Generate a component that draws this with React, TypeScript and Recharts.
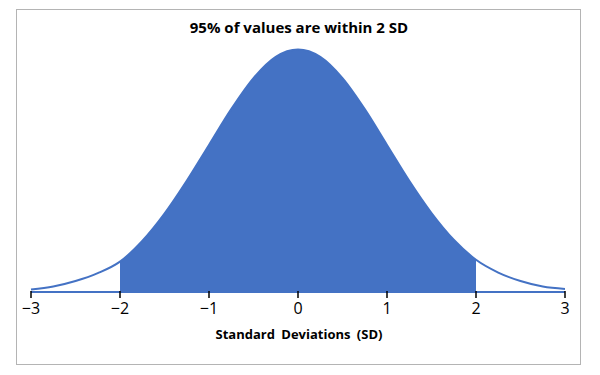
import { ComposedChart, Area, XAxis, YAxis } from "recharts";

// standard deviations along the x axis
const sdPoints = [-3, -2.75, -2.5, -2.25, -2, -1.75, -1.5, -1.25, -1, -0.75, -0.5, -0.25, 0, 0.25, 0.5, 0.75, 1, 1.25, 1.5, 1.75, 2, 2.25, 2.5, 2.75, 3];
// curve height
const density = [0.004, 0.009, 0.018, 0.031, 0.05, 0.084, 0.129, 0.183, 0.242, 0.301, 0.352, 0.387, 0.399, 0.387, 0.352, 0.301, 0.242, 0.183, 0.13, 0.086, 0.053, 0.032, 0.018, 0.009, 0.005];
const xTicks = [-3, -2, -1, 0, 1, 2, 3];
const shadeFrom = -2;
const shadeTo = 2;

const data = sdPoints.map((x, i) => ({
  x,
  curve: density[i],
  shaded: x >= shadeFrom && x <= shadeTo ? density[i] : null,
}));

const BLUE = "#4472C4";
const FONT = "'Open Sans', sans-serif";

function Tick(props: any) {
  const { x, y, payload } = props;
  const v = payload.value;
  const label = v < 0 ? `\u2212${Math.abs(v)}` : `${v}`;
  return (
    <g>
      <line x1={x} x2={x} y1={y - 1} y2={y + 6} stroke="#000" strokeWidth={1.5} />
      <text x={x} y={y + 22} textAnchor="middle" fontSize={16} fontFamily={FONT} fill="#000">
        {label}
      </text>
    </g>
  );
}

export default function App() {
  return (
    <div style={{ position: "absolute", left: 0, top: 0, width: 600, height: 375, background: "#fff" }}>
      <div
        style={{
          position: "absolute",
          left: 16,
          top: 9,
          width: 563,
          height: 354,
          border: "1.5px solid #b4b4b4",
        }}
      />
      <div
        style={{
          position: "absolute",
          left: 0,
          top: 17,
          width: 598,
          textAlign: "center",
          fontFamily: FONT,
          fontWeight: 700,
          fontSize: 15,
        }}
      >
        95% of values are within 2 SD
      </div>
      <div
        style={{
          position: "absolute",
          left: 0,
          top: 325,
          width: 598,
          textAlign: "center",
          fontFamily: FONT,
          fontWeight: 700,
          fontSize: 13,
          wordSpacing: 3,
        }}
      >
        Standard Deviations (SD)
      </div>
      <ComposedChart
        width={600}
        height={375}
        data={data}
        margin={{ top: 49, right: 35, bottom: 53, left: 31 }}
        style={{ position: "absolute", left: 0, top: 0 }}
      >
        <XAxis
          dataKey="x"
          type="number"
          domain={[-3, 3]}
          ticks={xTicks}
          interval={0}
          axisLine={{ stroke: BLUE, strokeWidth: 2 }}
          tickLine={false}
          tickSize={0}
          tickMargin={0}
          tick={<Tick />}
          height={30}
        />
        <YAxis hide domain={[0, 0.4]} />
        <Area
          type="monotone"
          dataKey="shaded"
          stroke="none"
          fill={BLUE}
          fillOpacity={1}
          isAnimationActive={false}
          connectNulls={false}
        />
        <Area
          type="monotone"
          dataKey="curve"
          stroke={BLUE}
          strokeWidth={2}
          fill="none"
          isAnimationActive={false}
        />
      </ComposedChart>
    </div>
  );
}
